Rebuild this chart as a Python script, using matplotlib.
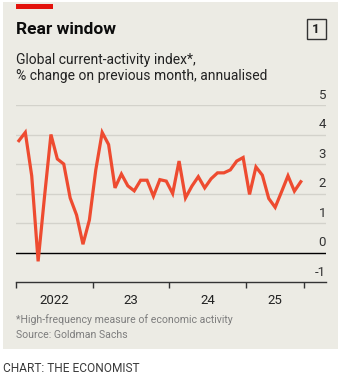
import matplotlib.pyplot as plt
from matplotlib.patches import Rectangle
import matplotlib.transforms as mtransforms

# monthly index, Jan 2022 - Sep 2025
months = list(range(45))
values = [3.79, 4.07, 2.6, -0.3, 1.9, 4.0, 3.17, 3.0, 1.85, 1.27,
          0.28, 1.1, 2.8, 4.07, 3.66, 2.19, 2.66, 2.26, 2.09, 2.45,
          2.45, 1.91, 2.47, 2.42, 2.0, 3.1, 1.85, 2.25, 2.57, 2.19,
          2.5, 2.7, 2.7, 2.8, 3.1, 3.22, 1.97, 2.9, 2.62, 1.83,
          1.53, 2.06, 2.6, 2.08, 2.4]
year_labels = ['2022', '23', '24', '25']
year_ticks = [0, 12, 24, 36, 45]
yticks = [-1, 0, 1, 2, 3, 4, 5]

W, H = 345, 384
bg = '#ecebe4'
red = '#ee4b30'

plt.rcParams['font.family'] = ['Roboto', 'DejaVu Sans']
fig = plt.figure(figsize=(W / 100, H / 100), dpi=100)
fig.patch.set_facecolor('white')

def px(x, y):
    return x / W, 1 - y / H

# beige panel
fig.patches.append(Rectangle(px(3, 349), 335 / W, 347 / H, transform=fig.transFigure,
                             facecolor=bg, edgecolor='none', zorder=-5))
# red tag
fig.patches.append(Rectangle(px(16, 8.5), 37 / W, 4.2 / H, transform=fig.transFigure,
                             facecolor='#e3120b', edgecolor='none', zorder=-4))

fig.text(*px(16, 30), 'Rear window', fontsize=12.5, fontweight='bold',
         color='#0c0c0c', va='center', ha='left')
fig.text(*px(16, 60), 'Global current-activity index*,', fontsize=10,
         color='#222222', va='center', ha='left')
fig.text(*px(16, 76), '% change on previous month, annualised', fontsize=10,
         color='#222222', va='center', ha='left')
fig.patches.append(Rectangle(px(306.5, 39), 19 / W, 20 / H, transform=fig.transFigure,
                             facecolor='none', edgecolor='#333333', linewidth=1.0, zorder=2))
fig.text(*px(316, 29.5), '1', fontsize=9.5, fontweight='bold', color='#222222',
         va='center', ha='center')

# plot area: x from 15.7 px, -1 at y=282, 5 at y=105
left, right = 15.7, 326
ybot, ytop = 282, 105
ax = fig.add_axes([left / W, 1 - ybot / H, (right - left) / W, (ybot - ytop) / H])
ax.set_zorder(5)
ax.set_facecolor('none')
mw = (304 - left) / 45
ax.set_xlim(0, (right - left) / mw)
ax.set_ylim(-1, 5)

for v in yticks[1:]:
    ax.axhline(v, color='#000000' if v == 0 else '#d3d2cb', linewidth=1.0, zorder=1)

ax.plot([m + 0.5 for m in months], values, color=red, linewidth=2.3,
        solid_joinstyle='miter', zorder=3, clip_on=False)

for s in ['top', 'right', 'left']:
    ax.spines[s].set_visible(False)
ax.spines['bottom'].set_color('#333333')
ax.spines['bottom'].set_linewidth(1.0)
ax.set_yticks([])
ax.set_xticks(year_ticks)
ax.set_xticklabels([])
ax.tick_params(axis='x', direction='out', length=4, width=1, color='#333333')

ytr = mtransforms.blended_transform_factory(ax.transAxes, ax.transData)
for v in yticks:
    ax.text(1.0, v, str(v), transform=mtransforms.offset_copy(ytr, fig=fig, x=0, y=2.5, units='points'),
            ha='right', va='bottom', fontsize=9.5, color='#333333')

for i, lab in enumerate(year_labels):
    mid = (year_ticks[i] + year_ticks[i + 1]) / 2
    ax.text(mid, -1, lab, transform=mtransforms.offset_copy(ax.transData, fig=fig, x=0, y=-9, units='points'),
            ha='center', va='top', fontsize=9.5, color='#222222')

fig.text(*px(16, 320), '*High-frequency measure of economic activity', fontsize=7.6,
         color='#7d7d7d', va='center', ha='left')
fig.text(*px(16, 335), 'Source: Goldman Sachs', fontsize=7.6,
         color='#7d7d7d', va='center', ha='left')
fig.text(*px(3, 368), 'CHART: THE ECONOMIST', fontsize=8.6, color='#3a3a3a',
         va='center', ha='left')

fig.savefig('out.png', dpi=100, facecolor='white')
